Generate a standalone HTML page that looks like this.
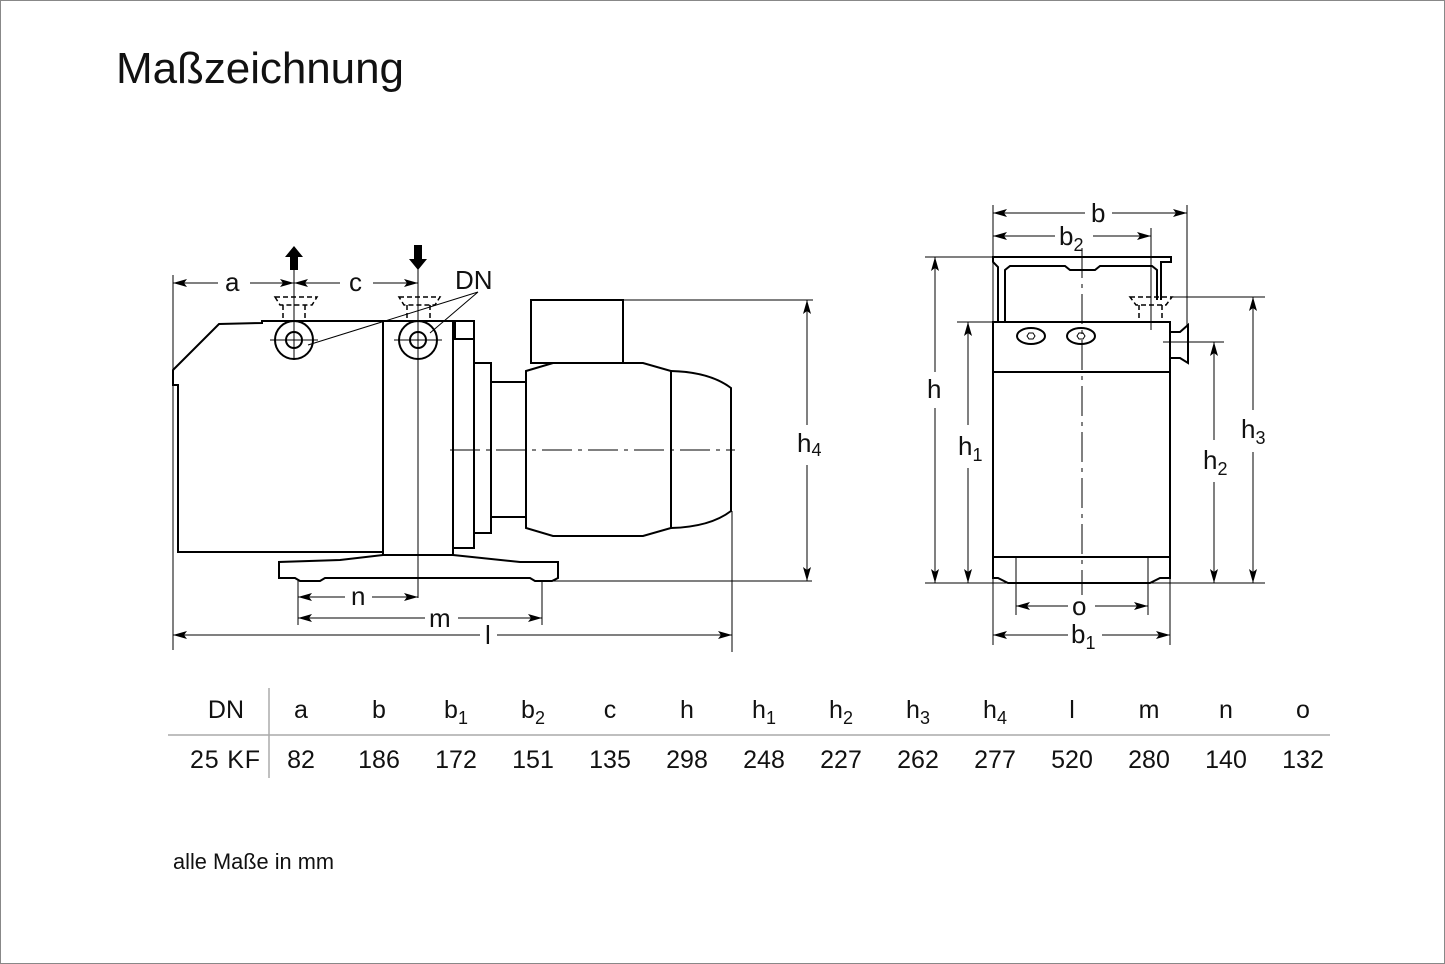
<!DOCTYPE html>
<html><head><meta charset="utf-8"><style>
html,body{margin:0;padding:0;background:#fff}
svg{display:block}
text{font-family:"Liberation Sans",Arial,sans-serif;fill:#111}
</style></head><body>
<svg width="1445" height="964" viewBox="0 0 1445 964" xmlns="http://www.w3.org/2000/svg">
<defs>
<marker id="ar" viewBox="0 0 14 8" refX="14" refY="4" markerWidth="14" markerHeight="8" markerUnits="userSpaceOnUse" orient="auto-start-reverse">
<path d="M0,0 L14,4 L0,8 L3,4 Z" fill="#000"/></marker>
</defs>
<rect x="0.5" y="0.5" width="1444" height="963" fill="#fff" stroke="#888"/>
<text x="116" y="83" font-size="44" textLength="288">Maßzeichnung</text>

<!-- LEFT VIEW -->
<g fill="none" stroke="#000" stroke-width="2">
<path d="M173,370 L219,324 L262,323 L262,321 L383,321 L383,552 L178,552 L178,385 L173,385 Z" fill="#fff"/>
<rect x="383" y="321" width="70" height="234"/>
<rect x="455" y="321" width="19" height="18"/>
<rect x="453" y="339" width="21" height="209"/>
<rect x="474" y="363" width="17" height="170"/>
<rect x="491" y="382" width="36" height="135"/>
<rect x="531" y="300" width="92" height="63"/>
<path d="M526,371 L553,363 L643,363 L671,371 L671,528 L643,536 L553,536 L526,528 Z" fill="#fff"/>
<path d="M671,371 Q710,372 731,388 L731,511 Q710,527 671,528"/>
<path d="M383,555 L340,560 L279,562 L279,578 L295,578 L300,581 L320,581 L325,578 L530,578 L535,581 L552,581 L558,578 L558,562 L520,562 L453,555"/>
<circle cx="294" cy="340" r="19"/><circle cx="294" cy="340" r="8"/>
<circle cx="418" cy="340" r="19"/><circle cx="418" cy="340" r="8"/>
</g>
<g fill="none" stroke="#000" stroke-width="1.5" stroke-dasharray="5,3">
<path d="M275,297 L317,297 L312,305 L280,305 Z"/>
<path d="M283,305 L283,320 M305,305 L305,320"/>
<path d="M399,297 L440,297 L435,305 L404,305 Z"/>
<path d="M407,305 L407,320 M430,305 L430,320"/>
</g>
<g stroke="#000" stroke-width="1" fill="none">
<path d="M294,268 L294,360" />
<path d="M418,268 L418,598"/>
<path d="M270,340 L318,340 M394,340 L442,340"/>
<path d="M450,450 L735,450" stroke-dasharray="30,6,4,6"/>
<path d="M173,275 L173,650"/>
<path d="M298,580 L298,625 M542,580 L542,625 M732,511 L732,652"/>
<path d="M623,300 L813,300 M553,581 L812,581"/>
<path d="M478,292 L308,345 M478,292 L430,333"/>
<line x1="173" y1="283" x2="218" y2="283" marker-start="url(#ar)"/>
<line x1="250" y1="283" x2="294" y2="283" marker-end="url(#ar)"/>
<line x1="294" y1="283" x2="340" y2="283" marker-start="url(#ar)"/>
<line x1="373" y1="283" x2="418" y2="283" marker-end="url(#ar)"/>
<line x1="298" y1="597" x2="345" y2="597" marker-start="url(#ar)"/>
<line x1="372" y1="597" x2="418" y2="597" marker-end="url(#ar)"/>
<line x1="298" y1="618" x2="425" y2="618" marker-start="url(#ar)"/>
<line x1="458" y1="618" x2="542" y2="618" marker-end="url(#ar)"/>
<line x1="173" y1="635" x2="480" y2="635" marker-start="url(#ar)"/>
<line x1="497" y1="635" x2="732" y2="635" marker-end="url(#ar)"/>
<line x1="807" y1="300" x2="807" y2="425" marker-start="url(#ar)"/>
<line x1="807" y1="465" x2="807" y2="581" marker-end="url(#ar)"/>
</g>
<path d="M294,246 L303,257 L298,257 L298,270 L290,270 L290,257 L285,257 Z" fill="#000"/>
<path d="M418,270 L427,259 L422,259 L422,245 L414,245 L414,259 L409,259 Z" fill="#000"/>
<text x="225" y="291" font-size="26">a</text>
<text x="349" y="291" font-size="26">c</text>
<text x="455" y="289" font-size="26">DN</text>
<text x="351" y="605" font-size="26">n</text>
<text x="429" y="627" font-size="26">m</text>
<text x="485" y="644" font-size="26">l</text>
<text x="797" y="452" font-size="26">h<tspan font-size="18" dy="4">4</tspan></text>

<!-- RIGHT VIEW -->
<g fill="none" stroke="#000" stroke-width="2">
<rect x="993" y="322" width="177" height="235" fill="#fff"/>
<path d="M993,372 L1170,372"/>
<path d="M993,557 L993,578 L998,578 L1008,583 L1150,583 L1160,578 L1170,578 L1170,557"/>
<path d="M1005,321 L1005,270 L1010,266 L1065,266 L1070,270 L1095,270 L1100,266 L1152,266 L1157,270 L1157,300 M1161,300 L1161,262 L1171,262 L1171,257 L993,257 L993,262 L998,267 L998,321"/>
<path d="M1170,332 L1180,332 L1188,325 L1188,363 L1180,358 L1170,358"/>
<ellipse cx="1031" cy="336" rx="14" ry="8"/>
<ellipse cx="1081" cy="336" rx="14" ry="8"/>
</g>
<g fill="none" stroke="#000" stroke-width="1">
<path d="M1027,336 l2,-3 h4 l2,3 l-2,3 h-4 z M1077,336 l2,-3 h4 l2,3 l-2,3 h-4 z"/>
<path d="M1082,248 L1082,595" stroke-dasharray="30,6,4,6"/>
<path d="M993,205 L993,645 M1187,205 L1187,325 M1151,228 L1151,330 M1170,560 L1170,645"/>
<path d="M1016,557 L1016,615 M1148,557 L1148,615"/>
<path d="M925,257 L993,257 M957,322 L993,322 M925,583 L1265,583 M1170,297 L1265,297 M1163,342 L1224,342"/>
</g>
<g fill="none" stroke="#000" stroke-width="1.5" stroke-dasharray="5,3">
<path d="M1130,297 L1172,297 L1166,305 L1136,305 Z"/>
<path d="M1139,305 L1139,320 M1162,305 L1162,320"/>
</g>
<g stroke="#000" stroke-width="1" fill="none">
<line x1="993" y1="213" x2="1085" y2="213" marker-start="url(#ar)"/>
<line x1="1112" y1="213" x2="1187" y2="213" marker-end="url(#ar)"/>
<line x1="993" y1="236" x2="1055" y2="236" marker-start="url(#ar)"/>
<line x1="1093" y1="236" x2="1151" y2="236" marker-end="url(#ar)"/>
<line x1="1016" y1="606" x2="1068" y2="606" marker-start="url(#ar)"/>
<line x1="1095" y1="606" x2="1148" y2="606" marker-end="url(#ar)"/>
<line x1="993" y1="635" x2="1068" y2="635" marker-start="url(#ar)"/>
<line x1="1102" y1="635" x2="1170" y2="635" marker-end="url(#ar)"/>
<line x1="935" y1="257" x2="935" y2="372" marker-start="url(#ar)"/>
<line x1="935" y1="408" x2="935" y2="583" marker-end="url(#ar)"/>
<line x1="968" y1="322" x2="968" y2="425" marker-start="url(#ar)"/>
<line x1="968" y1="468" x2="968" y2="583" marker-end="url(#ar)"/>
<line x1="1214" y1="342" x2="1214" y2="440" marker-start="url(#ar)"/>
<line x1="1214" y1="482" x2="1214" y2="583" marker-end="url(#ar)"/>
<line x1="1253" y1="297" x2="1253" y2="410" marker-start="url(#ar)"/>
<line x1="1253" y1="452" x2="1253" y2="583" marker-end="url(#ar)"/>
</g>
<text x="1091" y="222" font-size="26">b</text>
<text x="1059" y="245" font-size="26">b<tspan font-size="18" dy="6">2</tspan></text>
<text x="1072" y="615" font-size="26">o</text>
<text x="1071" y="643" font-size="26">b<tspan font-size="18" dy="6">1</tspan></text>
<text x="927" y="398" font-size="26">h</text>
<text x="958" y="455" font-size="26">h<tspan font-size="18" dy="6">1</tspan></text>
<text x="1203" y="469" font-size="26">h<tspan font-size="18" dy="6">2</tspan></text>
<text x="1241" y="438" font-size="26">h<tspan font-size="18" dy="6">3</tspan></text>

<!-- TABLE -->
<line x1="168" y1="735" x2="1330" y2="735" stroke="#aaa" stroke-width="1.5"/>
<line x1="269" y1="688" x2="269" y2="778" stroke="#aaa" stroke-width="1.5"/>
<g font-size="25" text-anchor="middle" style="fill:#222">
<text x="244" y="718" text-anchor="end">DN</text>
<text x="301" y="718">a</text>
<text x="379" y="718">b</text>
<text x="456" y="718">b<tspan font-size="18" dy="6">1</tspan></text>
<text x="533" y="718">b<tspan font-size="18" dy="6">2</tspan></text>
<text x="610" y="718">c</text>
<text x="687" y="718">h</text>
<text x="764" y="718">h<tspan font-size="18" dy="6">1</tspan></text>
<text x="841" y="718">h<tspan font-size="18" dy="6">2</tspan></text>
<text x="918" y="718">h<tspan font-size="18" dy="6">3</tspan></text>
<text x="995" y="718">h<tspan font-size="18" dy="6">4</tspan></text>
<text x="1072" y="718">l</text>
<text x="1149" y="718">m</text>
<text x="1226" y="718">n</text>
<text x="1303" y="718">o</text>
<text x="260" y="768" text-anchor="end" textLength="70">25 KF</text>
<text x="301" y="768">82</text>
<text x="379" y="768">186</text>
<text x="456" y="768">172</text>
<text x="533" y="768">151</text>
<text x="610" y="768">135</text>
<text x="687" y="768">298</text>
<text x="764" y="768">248</text>
<text x="841" y="768">227</text>
<text x="918" y="768">262</text>
<text x="995" y="768">277</text>
<text x="1072" y="768">520</text>
<text x="1149" y="768">280</text>
<text x="1226" y="768">140</text>
<text x="1303" y="768">132</text>
</g>
<text x="173" y="869" font-size="22" textLength="161" lengthAdjust="spacingAndGlyphs">alle Maße in mm</text>
</svg>
</body></html>
